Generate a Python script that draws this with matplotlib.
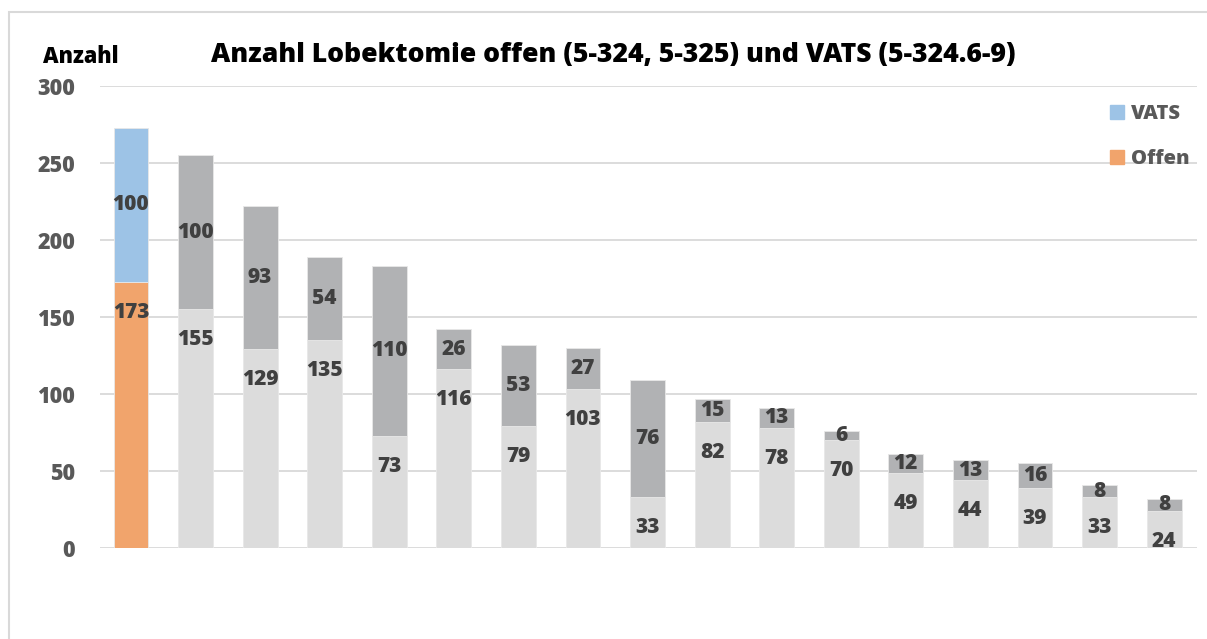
import matplotlib.pyplot as plt
from matplotlib.patches import Patch, Rectangle

plt.rcParams['font.family'] = ['Open Sans', 'DejaVu Sans']

# --- Data ---
offen = [173, 155, 129, 135, 73, 116, 79, 103, 33, 82, 78, 70, 49, 44, 39, 33, 24]
vats = [100, 100, 93, 54, 110, 26, 53, 27, 76, 15, 13, 6, 12, 13, 16, 8, 8]
yticks = [0, 50, 100, 150, 200, 250, 300]

# colours: first bar highlighted, rest grey
offen_hl, vats_hl = '#F1A46C', '#9DC3E6'
offen_grey, vats_grey = '#DCDCDC', '#B1B2B4'
label_col = '#404040'

fig = plt.figure(figsize=(12.07, 6.39), dpi=100)
ax = fig.add_axes([100 / 1207, 1 - 548 / 639, 1097 / 1207, 462 / 639])

x = list(range(len(offen)))
offen_cols = [offen_hl] + [offen_grey] * (len(offen) - 1)
vats_cols = [vats_hl] + [vats_grey] * (len(vats) - 1)

ax.bar(x, offen, width=0.54, color=offen_cols, edgecolor='#E8E8E8', linewidth=0.6, zorder=2)
ax.bar(x, vats, width=0.54, bottom=offen, color=vats_cols, edgecolor='#E8E8E8', linewidth=0.6, zorder=2)

# --- Labels: Offen near top of segment, VATS centred ---
for i, (o, v) in enumerate(zip(offen, vats)):
    ax.annotate(f'{o}', (i, o), xytext=(0, -22), textcoords='offset points',
                ha='center', va='center', fontsize=15, fontweight='heavy', color=label_col, zorder=3)
    ax.text(i, o + v / 2, f'{v}', ha='center', va='center', fontsize=15,
            fontweight='heavy', color=label_col, zorder=3)

ax.set_xlim(-0.48, 16.51)
ax.set_ylim(0, 300)
ax.set_yticks(yticks)
ax.set_xticks([])
ax.tick_params(axis='y', length=0, pad=18, labelsize=15.5, labelcolor='#595959')
for lab in ax.get_yticklabels():
    lab.set_fontweight('heavy')
ax.grid(axis='y', color='#D9D9D9', linewidth=1.3, zorder=0)
ax.set_axisbelow(True)
for s in ax.spines.values():
    s.set_visible(False)

fig.text(43 / 1207, 1 - 57 / 639, 'Anzahl', fontsize=15.5, fontweight='heavy', color='black',
         ha='left', va='center')
fig.text(613 / 1207, 1 - 55 / 639, 'Anzahl Lobektomie offen (5-324, 5-325) und VATS (5-324.6-9)',
         fontsize=19.2, fontweight='heavy', color='black', ha='center', va='center')

# --- Legend ---
handles = [Patch(color=vats_hl, label='VATS'), Patch(color=offen_hl, label='Offen')]
leg = ax.legend(handles=handles, loc='upper right', bbox_to_anchor=(1.01, 1.0), frameon=False,
                fontsize=14.5, labelspacing=1.25, handlelength=0.7, handleheight=0.7,
                handletextpad=0.35)
for t in leg.get_texts():
    t.set_fontweight('heavy')
    t.set_color('#595959')

# outer chart border (top and left visible)
fig.patches.append(Rectangle((9 / 1207, -0.1), 1.2, 1 - 12 / 639 + 0.1, transform=fig.transFigure,
                             fill=False, edgecolor='#D9D9D9', linewidth=1.5))

fig.savefig('out.png', dpi=100)
